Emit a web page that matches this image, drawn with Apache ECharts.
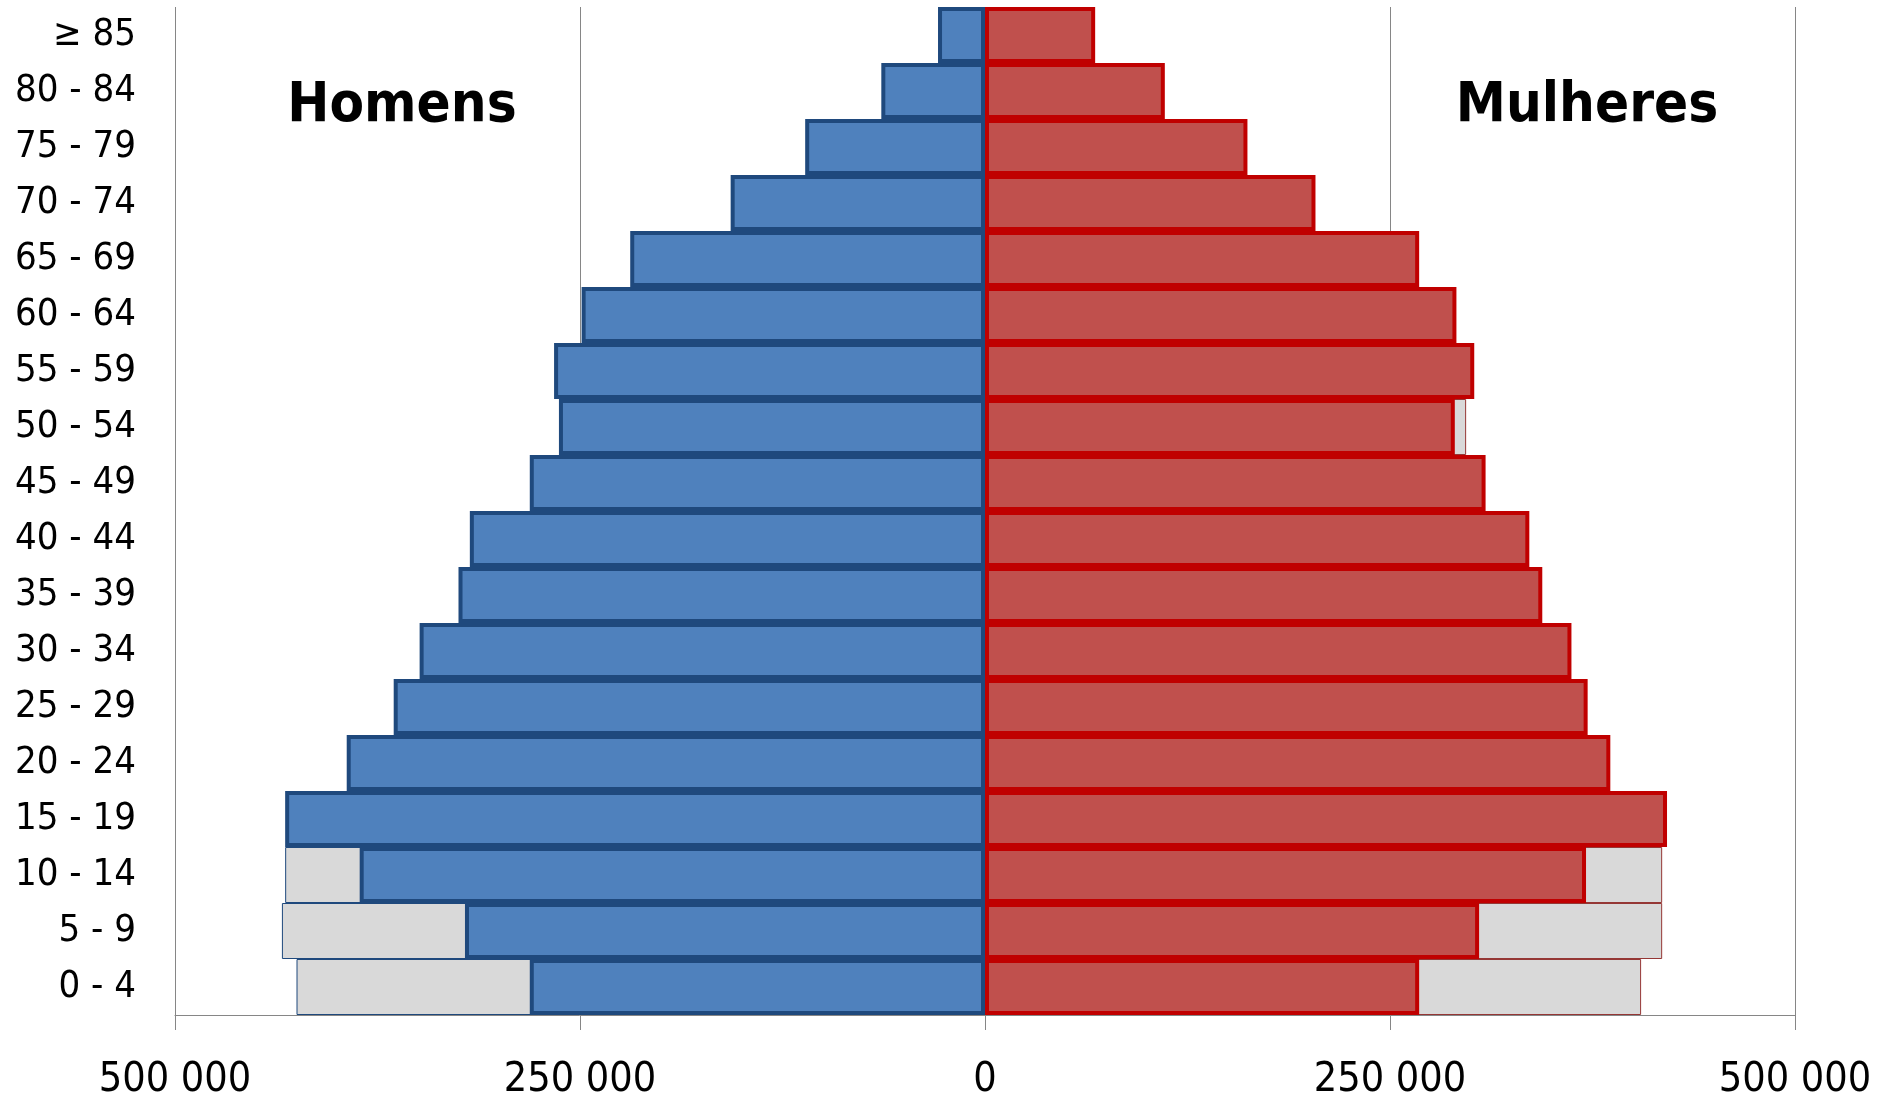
<!DOCTYPE html>
<html>
<head>
<meta charset="utf-8">
<script src="https://cdn.jsdelivr.net/npm/echarts@6.0.0/dist/echarts.min.js"></script>
<style>
  html, body { margin: 0; padding: 0; background: #fff; }
  #root { width: 1892px; height: 1102px; }
</style>
</head>
<body>
<div id="root"></div>
<script>
// age groups, bottom to top
const ageGroups = ['0 - 4', '5 - 9', '10 - 14', '15 - 19', '20 - 24', '25 - 29', '30 - 34', '35 - 39',
  '40 - 44', '45 - 49', '50 - 54', '55 - 59', '60 - 64', '65 - 69', '70 - 74', '75 - 79', '80 - 84', '≥ 85']

const homens = [281000, 321000, 386000, 432000, 394000, 365000, 349000, 325000,
  318000, 281000, 263000, 266000, 249000, 219000, 157000, 111000, 64000, 29000]
const mulheres = [268000, 305000, 371000, 421000, 386000, 372000, 362000, 344000,
  336000, 309000, 290000, 302000, 291000, 268000, 204000, 162000, 111000, 68000]

// grey comparison bars, only where they show behind the coloured ones
const homensRef = [425000, 434000, 432000, null, null, null, null, null,
  null, null, null, null, null, null, null, null, null, null]
const mulheresRef = [405000, 418000, 418000, null, null, null, null, null,
  null, null, 297000, null, null, null, null, null, null, null]

const xTicks = [-500000, -250000, 0, 250000, 500000]

const font = "'DejaVu Sans Condensed', 'Liberation Sans Narrow', sans-serif"
const neg = arr => arr.map(v => (v == null ? null : -v))
const fmt = v => String(Math.abs(v)).replace(/\B(?=(\d{3})+(?!\d))/g, ' ')

const chart = echarts.init(document.getElementById('root'))

const barBase = {
  type: 'bar',
  barGap: '-100%',
  barCategoryGap: '0%',
  animation: false
}

chart.setOption({
  animation: false,
  grid: { left: 175, right: 97, top: 7, bottom: 87, containLabel: false },
  xAxis: {
    type: 'value',
    min: xTicks[0],
    max: xTicks[xTicks.length - 1],
    interval: 250000,
    axisLine: { show: true, lineStyle: { color: '#868686', width: 1 } },
    axisTick: { show: true, length: 15, lineStyle: { color: '#868686', width: 1 } },
    splitLine: { show: true, lineStyle: { color: '#868686', width: 1 } },
    axisLabel: {
      margin: 45,
      color: '#000',
      fontSize: 41,
      fontFamily: font,
      formatter: fmt
    }
  },
  yAxis: {
    type: 'category',
    data: ageGroups,
    axisLine: { show: false },
    axisTick: { show: false },
    axisLabel: {
      margin: 39,
      color: '#000',
      fontSize: 38,
      fontFamily: font,
      padding: [6, 0, 0, 0]
    }
  },
  graphic: [
    {
      type: 'text', x: 402, y: 106,
      style: { text: 'Homens', font: 'bold 56px ' + font, fill: '#000', align: 'center', verticalAlign: 'middle' }
    },
    {
      type: 'text', x: 1587, y: 106,
      style: { text: 'Mulheres', font: 'bold 56px ' + font, fill: '#000', align: 'center', verticalAlign: 'middle' }
    }
  ],
  series: [
    {
      ...barBase,
      name: 'Homens (ref)',
      data: neg(homensRef),
      itemStyle: { color: '#D9D9D9', borderColor: '#1F497D', borderWidth: 1 }
    },
    {
      ...barBase,
      name: 'Mulheres (ref)',
      data: mulheresRef,
      itemStyle: { color: '#D9D9D9', borderColor: '#953735', borderWidth: 1 }
    },
    {
      ...barBase,
      name: 'Homens',
      data: neg(homens),
      itemStyle: { color: '#4F81BD', borderColor: '#1F497D', borderWidth: 4 }
    },
    {
      ...barBase,
      name: 'Mulheres',
      data: mulheres,
      itemStyle: { color: '#C0504D', borderColor: '#C00000', borderWidth: 4 }
    }
  ]
})
</script>
</body>
</html>
